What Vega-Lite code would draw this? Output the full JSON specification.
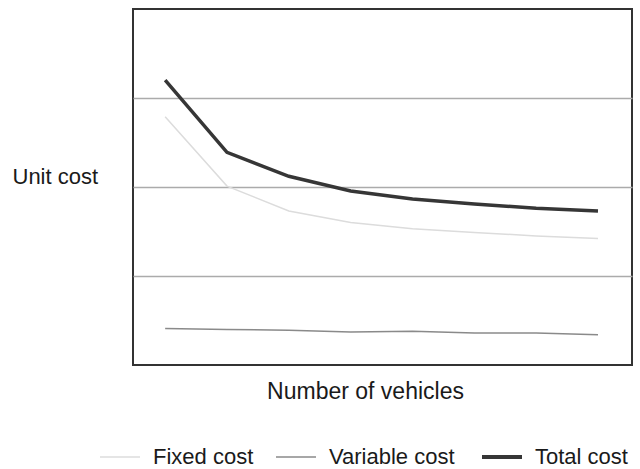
{
  "$schema": "https://vega.github.io/schema/vega-lite/v6.json",
  "width": 499,
  "height": 356,
  "autosize": "none",
  "padding": {"left": 133, "top": 9, "right": 8, "bottom": 104},
  "background": "white",
  "config": {
    "view": {"stroke": "#333333", "strokeWidth": 2},
    "font": "Liberation Sans"
  },
  "data": {
    "values": [
      {"n": 1, "series": "Fixed cost", "cost": 2.79},
      {"n": 2, "series": "Fixed cost", "cost": 2.01},
      {"n": 3, "series": "Fixed cost", "cost": 1.73},
      {"n": 4, "series": "Fixed cost", "cost": 1.6},
      {"n": 5, "series": "Fixed cost", "cost": 1.53},
      {"n": 6, "series": "Fixed cost", "cost": 1.49},
      {"n": 7, "series": "Fixed cost", "cost": 1.45},
      {"n": 8, "series": "Fixed cost", "cost": 1.42},
      {"n": 1, "series": "Variable cost", "cost": 0.41},
      {"n": 2, "series": "Variable cost", "cost": 0.4},
      {"n": 3, "series": "Variable cost", "cost": 0.39},
      {"n": 4, "series": "Variable cost", "cost": 0.37},
      {"n": 5, "series": "Variable cost", "cost": 0.38},
      {"n": 6, "series": "Variable cost", "cost": 0.36},
      {"n": 7, "series": "Variable cost", "cost": 0.36},
      {"n": 8, "series": "Variable cost", "cost": 0.34},
      {"n": 1, "series": "Total cost", "cost": 3.2},
      {"n": 2, "series": "Total cost", "cost": 2.39},
      {"n": 3, "series": "Total cost", "cost": 2.12},
      {"n": 4, "series": "Total cost", "cost": 1.955},
      {"n": 5, "series": "Total cost", "cost": 1.865},
      {"n": 6, "series": "Total cost", "cost": 1.81},
      {"n": 7, "series": "Total cost", "cost": 1.76},
      {"n": 8, "series": "Total cost", "cost": 1.73}
    ]
  },
  "mark": {"type": "line", "strokeCap": "butt", "strokeJoin": "miter"},
  "encoding": {
    "x": {
      "field": "n",
      "type": "quantitative",
      "scale": {"domain": [0.48, 8.55], "nice": false, "zero": false},
      "axis": {
        "title": "Number of vehicles",
        "labels": false, "ticks": false, "domain": false, "grid": false,
        "titleFontSize": 23, "titleFontWeight": "normal", "titleColor": "#1a1a1a",
        "titleX": 232, "titleY": 33, "titleBaseline": "alphabetic"
      }
    },
    "y": {
      "field": "cost",
      "type": "quantitative",
      "scale": {"domain": [0, 4], "nice": false, "zero": false},
      "axis": {
        "title": "Unit cost",
        "values": [1, 2, 3],
        "labels": false, "ticks": false, "domain": false,
        "grid": true, "gridColor": "#ababab", "gridWidth": 1.5,
        "titleFontSize": 22, "titleFontWeight": "normal", "titleColor": "#1a1a1a",
        "titleAngle": 0, "titleAlign": "left", "titleBaseline": "alphabetic",
        "titleX": -121, "titleY": 174
      }
    },
    "color": {
      "field": "series",
      "type": "nominal",
      "scale": {"domain": ["Fixed cost", "Variable cost", "Total cost"], "range": ["#dcdcdc", "#8a8a8a", "#363636"]},
      "legend": {
        "title": null,
        "orient": "none",
        "direction": "horizontal",
        "legendX": -24,
        "legendY": 437,
        "symbolType": "stroke",
        "symbolSize": 1600,
        "labelFontSize": 22,
        "labelColor": "#1a1a1a",
        "labelOffset": 22,
        "columnPadding": 19,
        "labelLimit": 300,
        "encode": {
          "symbols": {
            "update": {
              "strokeWidth": {"signal": "datum.value === 'Total cost' ? 4 : 1.5"}
            }
          }
        }
      }
    },
    "strokeWidth": {
      "condition": {"test": "datum.series === 'Total cost'", "value": 3.5},
      "value": 1.5
    }
  }
}
